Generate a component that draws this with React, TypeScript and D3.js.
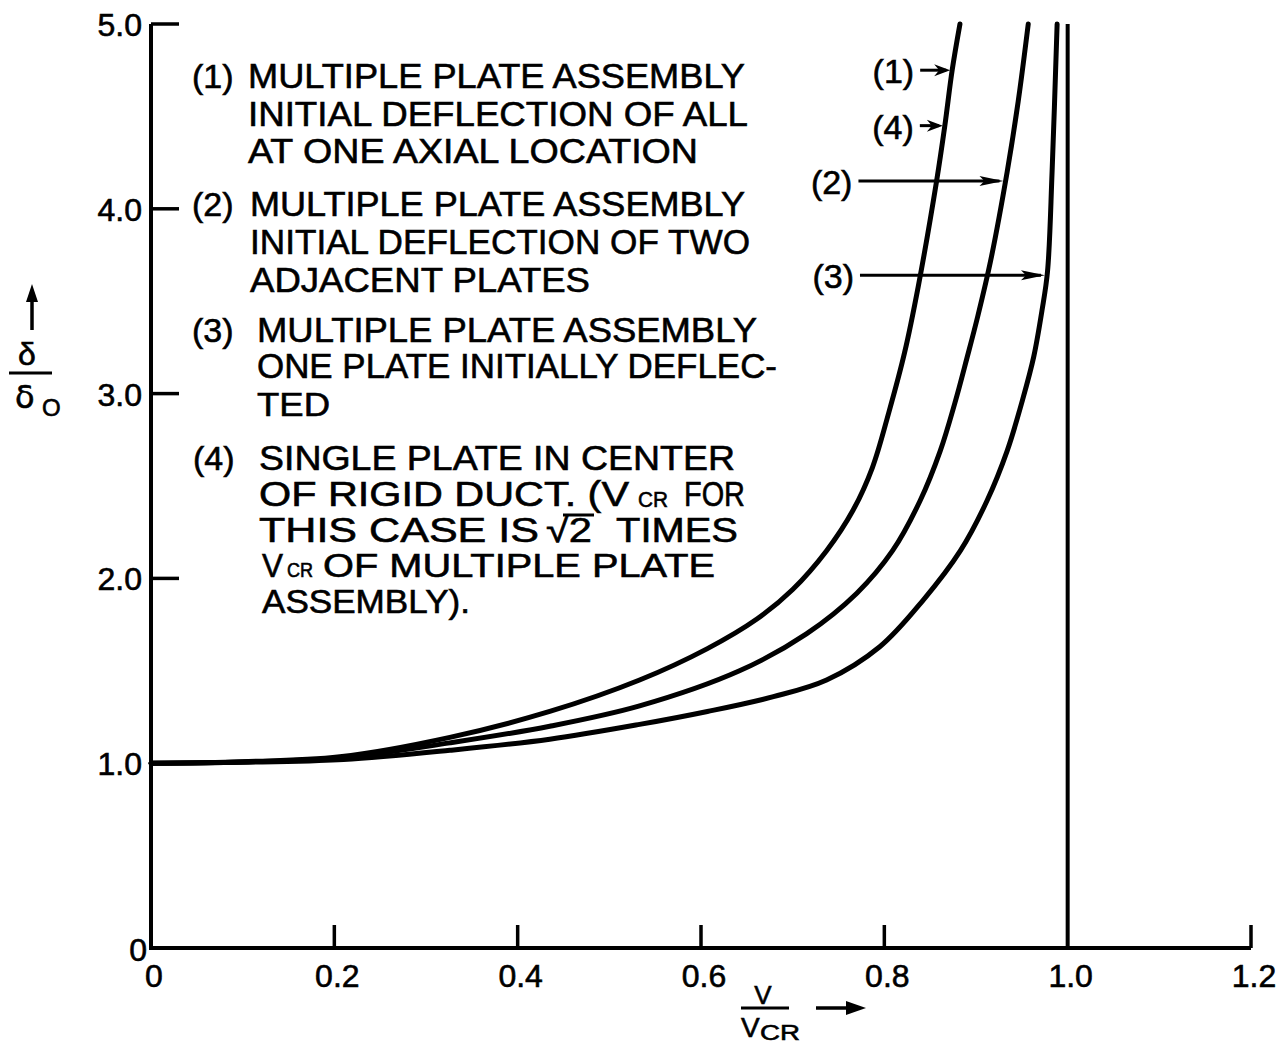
import React from "react";
import * as d3 from "d3";

const W = 1277;
const H = 1047;

// Axis ticks
const xTicks = [0, 0.2, 0.4, 0.6, 0.8, 1.0, 1.2];
const xTickLabels = ["0", "0.2", "0.4", "0.6", "0.8", "1.0", "1.2"];
const yTicks = [0, 1, 2, 3, 4, 5];
const yTickLabels = ["0", "1.0", "2.0", "3.0", "4.0", "5.0"];

// Curve (1) / (4): all plates deflected at one axial location; single plate in rigid duct
const vAll = [0, 0.1, 0.206, 0.326, 0.435, 0.533, 0.607, 0.661, 0.7, 0.737, 0.766, 0.787, 0.805, 0.822, 0.837, 0.857, 0.866, 0.874, 0.8825];
const dAll = [1.0, 1.008, 1.035, 1.14, 1.28, 1.45, 1.62, 1.78, 1.94, 2.15, 2.37, 2.6, 2.9, 3.22, 3.58, 4.15, 4.45, 4.75, 5.0];

// Curve (2): two adjacent plates deflected
const vTwo = [0, 0.1, 0.21, 0.326, 0.435, 0.533, 0.642, 0.715, 0.77, 0.809, 0.839, 0.861, 0.877, 0.89, 0.902, 0.916, 0.934, 0.946, 0.957];
const dTwo = [1.0, 1.007, 1.03, 1.11, 1.2, 1.31, 1.5, 1.7, 1.92, 2.15, 2.42, 2.69, 2.95, 3.19, 3.42, 3.72, 4.2, 4.58, 5.0];

// Curve (3): one plate initially deflected
const vOne = [0, 0.1, 0.21, 0.326, 0.435, 0.533, 0.607, 0.679, 0.737, 0.795, 0.842, 0.883, 0.912, 0.934, 0.951, 0.963, 0.972, 0.978, 0.983, 0.9885];
const dOne = [1.0, 1.005, 1.02, 1.07, 1.13, 1.21, 1.28, 1.36, 1.45, 1.63, 1.88, 2.15, 2.42, 2.69, 2.97, 3.2, 3.45, 3.66, 4.2, 5.0];

// Critical velocity line
const vCritical = 1.0;
const dTop = 5.0;

// Curve callouts: label, curve index, δ/δ0 level where the arrow meets the curve
const calloutLabels = ["(1)", "(4)", "(2)", "(3)"];
const calloutCurve = [0, 0, 1, 2];
const calloutLevel = [4.75, 4.45, 4.15, 3.64];

// Legend text
const legendKeys = ["(1)", "(2)", "(3)", "(4)"];
const legend1 = ["MULTIPLE PLATE ASSEMBLY", "INITIAL DEFLECTION OF ALL", "AT ONE AXIAL LOCATION"];
const legend2 = ["MULTIPLE PLATE ASSEMBLY", "INITIAL DEFLECTION OF TWO", "ADJACENT PLATES"];
const legend3 = ["MULTIPLE PLATE ASSEMBLY", "ONE PLATE INITIALLY DEFLEC-", "TED"];

const FONT = "'Liberation Sans', Arial, sans-serif";

function interpV(vs: number[], ds: number[], level: number) {
  for (let i = 1; i < ds.length; i++) {
    if (ds[i] >= level) {
      const t = (level - ds[i - 1]) / (ds[i] - ds[i - 1]);
      return vs[i - 1] + t * (vs[i] - vs[i - 1]);
    }
  }
  return vs[vs.length - 1];
}

function Arrow({ x1, x2, y, head = 22, half = 5 }: { x1: number; x2: number; y: number; head?: number; half?: number }) {
  const tip = x2 - 2;
  return (
    <g>
      <line x1={x1} y1={y} x2={tip - 4} y2={y} stroke="#000" strokeWidth={3} />
      <path d={`M${tip},${y} L${tip - head},${y - half} L${tip - head + 5},${y} L${tip - head},${y + half} Z`} fill="#000" />
    </g>
  );
}

export default function App() {
  const x = d3.scaleLinear().domain([0, 1.2]).range([151, 1251]);
  const y = d3.scaleLinear().domain([0, 5]).range([948, 24]);

  const line = d3
    .line<[number, number]>()
    .x((d) => x(d[0]))
    .y((d) => y(d[1]))
    .curve(d3.curveCatmullRom.alpha(0.5));

  const curves = [
    { v: vAll, d: dAll },
    { v: vTwo, d: dTwo },
    { v: vOne, d: dOne },
  ];

  // Callout layout: arrow shaft length
  const shaft = [32, 25, 147, 187];

  const textStyle = { fontFamily: FONT, fill: "#000", stroke: "#000", strokeWidth: 0.6 } as const;
  const fit = { lengthAdjust: "spacingAndGlyphs" } as const;

  const legendLeft = [248, 250, 257];
  const legendKeyX = 192;
  const legendBase = [[88, 126, 163], [216, 254, 292], [342, 378, 416]];
  const legendSize = [[35, 35, 35], [35, 35, 35], [35, 35, 33]];
  const legendWidths = [[497, 500, 450], [495, 500, 340], [500, 520, 73]];

  return (
    <svg width={W} height={H} viewBox={`0 0 ${W} ${H}`} style={{ display: "block", position: "absolute", left: 0, top: 0, background: "#fff" }}>
      <rect width={W} height={H} fill="#fff" />

      {/* axes */}
      <line x1={x(0)} y1={y(0)} x2={x(0)} y2={y(5)} stroke="#000" strokeWidth={4} />
      <line x1={x(0) - 2} y1={y(0)} x2={x(1.2)} y2={y(0)} stroke="#000" strokeWidth={4} />
      {yTicks.filter((t) => t >= 2).map((t) => (
        <line key={"yt" + t} x1={x(0)} x2={x(0) + 28} y1={y(t)} y2={y(t)} stroke="#000" strokeWidth={3.5} />
      ))}
      {xTicks.filter((t) => t > 0 && t !== vCritical).map((t) => (
        <line key={"xt" + t} x1={x(t)} x2={x(t)} y1={y(0)} y2={y(0) - 23} stroke="#000" strokeWidth={3.5} />
      ))}

      {/* tick labels */}
      {yTicks.map((t, i) => (
        <text key={"yl" + t} x={t === 0 ? x(0) - 4 : x(0) - 9} y={t === 0 ? y(t) + 13 : y(t) + 12} textAnchor="end" fontSize={32} style={textStyle} strokeWidth={0.5}>
          {yTickLabels[i]}
        </text>
      ))}
      {xTicks.map((t, i) => (
        <text key={"xl" + t} x={x(t) + 3} y={987} textAnchor="middle" fontSize={32} style={textStyle} strokeWidth={0.5}>
          {xTickLabels[i]}
        </text>
      ))}

      {/* critical velocity line */}
      <line x1={x(vCritical)} x2={x(vCritical)} y1={y(0)} y2={y(dTop)} stroke="#000" strokeWidth={4} />

      {/* curves */}
      {curves.map((c, i) => (
        <path key={"c" + i} d={line(c.v.map((v, j) => [v, c.d[j]]) as [number, number][]) || ""} fill="none" stroke="#000" strokeWidth={5} strokeLinecap="round" strokeLinejoin="round" />
      ))}

      {/* callouts */}
      {calloutLabels.map((lab, i) => {
        const c = curves[calloutCurve[i]];
        const tipX = x(interpV(c.v, c.d, calloutLevel[i]));
        const yy = y(calloutLevel[i]);
        const tail = tipX - shaft[i];
        return (
          <g key={"co" + i}>
            <Arrow x1={tail} x2={tipX} y={yy} head={i < 2 ? 16 : 24} half={i < 2 ? 6 : 5} />
            <text x={tail - 6} y={yy + 13} textAnchor="end" fontSize={34} style={textStyle}>
              {lab}
            </text>
          </g>
        );
      })}

      {/* legend blocks 1-3 */}
      {[legend1, legend2, legend3].map((lines, b) => (
        <g key={"lg" + b}>
          <text x={legendKeyX} y={legendBase[b][0]} fontSize={34} style={textStyle}>
            {legendKeys[b]}
          </text>
          {lines.map((s, k) => (
            <text key={k} x={legendLeft[b]} y={legendBase[b][k]} fontSize={legendSize[b][k]} textLength={legendWidths[b][k]} {...fit} style={textStyle}>
              {s}
            </text>
          ))}
        </g>
      ))}

      {/* legend block 4 */}
      <g>
        <text x={legendKeyX + 1} y={470} fontSize={34} style={textStyle}>
          {legendKeys[3]}
        </text>
        <text x={259} y={470} fontSize={35} textLength={476} {...fit} style={textStyle}>
          SINGLE PLATE IN CENTER
        </text>
        <text y={506} fontSize={35} style={textStyle}>
          <tspan x={259} textLength={370} {...fit}>OF RIGID DUCT. (V</tspan>
          <tspan x={638} dy={1} fontSize={22} textLength={30} {...fit}>CR</tspan>
          <tspan x={684} dy={-1} textLength={61} {...fit}>FOR</tspan>
        </text>
        <text x={259} y={542} fontSize={35} textLength={280} {...fit} style={textStyle}>
          THIS CASE IS
        </text>
        <text x={546} y={542} fontSize={35} textLength={46} {...fit} style={textStyle}>
          √2
        </text>
        <line x1={563} x2={594} y1={515} y2={515} stroke="#000" strokeWidth={3} />
        <text x={616} y={542} fontSize={35} textLength={122} {...fit} style={textStyle}>
          TIMES
        </text>
        <text y={577} fontSize={34} style={textStyle}>
          <tspan x={262} textLength={21} {...fit}>V</tspan>
          <tspan x={287} fontSize={21} textLength={26} {...fit}>CR</tspan>
          <tspan x={323} textLength={392} {...fit}>OF MULTIPLE PLATE</tspan>
        </text>
        <text x={262} y={613} fontSize={33} textLength={208} {...fit} style={textStyle}>
          ASSEMBLY).
        </text>
      </g>

      {/* y axis title */}
      <g>
        <line x1={32} x2={32} y1={330} y2={298} stroke="#000" strokeWidth={3.5} />
        <path d="M32,284 L26,302 L38,302 Z" fill="#000" />
        <text x={27} y={365} textAnchor="middle" fontSize={32} style={textStyle} strokeWidth={0.7} fontFamily="'DejaVu Sans', sans-serif">
          δ
        </text>
        <line x1={9} x2={52} y1={373} y2={373} stroke="#000" strokeWidth={3} />
        <text y={408} fontSize={32} style={textStyle}>
          <tspan x={15} fontFamily="'DejaVu Sans', sans-serif">δ</tspan>
          <tspan x={42} dy={8} fontSize={24}>O</tspan>
        </text>
      </g>

      {/* x axis title */}
      <g>
        <text x={763} y={1004} textAnchor="middle" fontSize={26} style={textStyle}>
          V
        </text>
        <line x1={741} x2={789} y1={1008} y2={1008} stroke="#000" strokeWidth={3} />
        <text y={1037} fontSize={28} style={textStyle}>
          <tspan x={741}>V</tspan>
          <tspan x={760} dy={3} fontSize={22} textLength={40} {...fit}>CR</tspan>
        </text>
        <line x1={816} x2={850} y1={1008} y2={1008} stroke="#000" strokeWidth={3.5} />
        <path d="M866,1008 L846,1001 L846,1015 Z" fill="#000" />
      </g>
    </svg>
  );
}
